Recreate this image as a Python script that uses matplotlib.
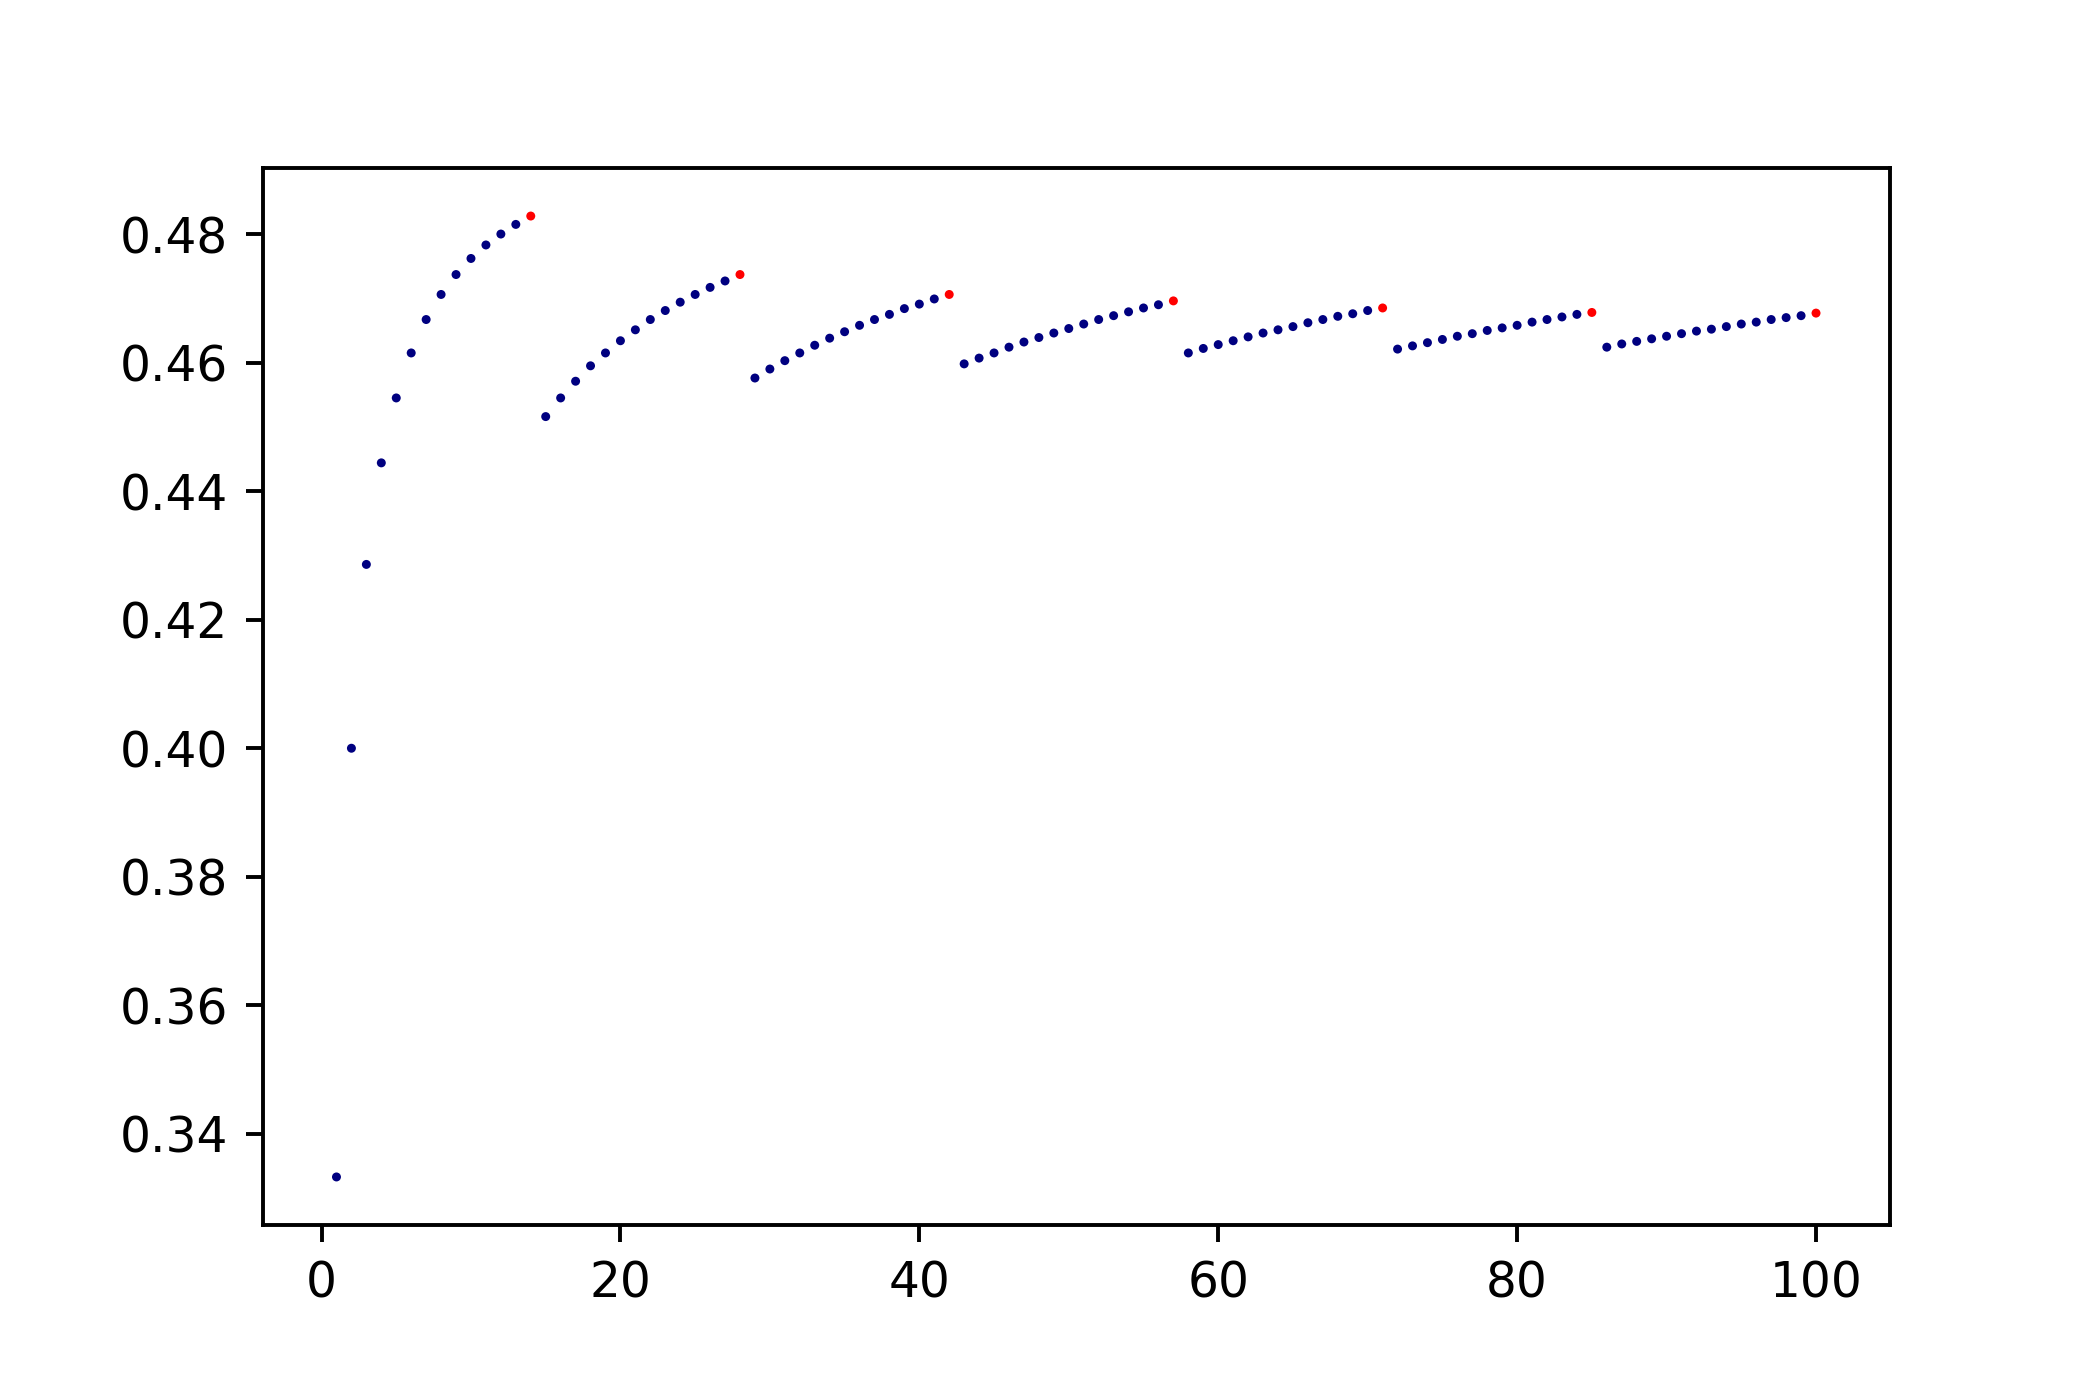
import numpy as np
import matplotlib
matplotlib.use('Agg')
import matplotlib.pyplot as plt

# x positions 1..100
x_vals = list(range(1, 101))

# values (7 runs, each ending on a red point)
y_vals = [
    0.3333, 0.4000, 0.4286, 0.4444, 0.4545, 0.4615, 0.4667, 0.4706, 0.4737, 0.4762,
    0.4783, 0.4800, 0.4815, 0.4828,
    0.4516, 0.4545, 0.4571, 0.4595, 0.4615, 0.4634, 0.4651, 0.4667, 0.4681, 0.4694,
    0.4706, 0.4717, 0.4727, 0.4737,
    0.4576, 0.4590, 0.4603, 0.4615, 0.4627, 0.4638, 0.4648, 0.4658, 0.4667, 0.4675,
    0.4684, 0.4691, 0.4699, 0.4706,
    0.4598, 0.4607, 0.4615, 0.4624, 0.4632, 0.4639, 0.4646, 0.4653, 0.4660, 0.4667,
    0.4673, 0.4679, 0.4685, 0.4690, 0.4696,
    0.4615, 0.4622, 0.4628, 0.4634, 0.4640, 0.4646, 0.4651, 0.4656, 0.4662, 0.4667,
    0.4672, 0.4676, 0.4681, 0.4685,
    0.4621, 0.4626, 0.4631, 0.4636, 0.4641, 0.4645, 0.4650, 0.4654, 0.4658, 0.4663,
    0.4667, 0.4671, 0.4675, 0.4678,
    0.4624, 0.4629, 0.4633, 0.4637, 0.4641, 0.4645, 0.4649, 0.4652, 0.4656, 0.4660,
    0.4663, 0.4667, 0.4670, 0.4673, 0.4677,
]

# x positions of the red (end-of-run) points
red_x = [14, 28, 42, 57, 71, 85, 100]

colors = ['red' if xv in red_x else 'navy' for xv in x_vals]

fig = plt.figure(figsize=(6, 4), dpi=350)
ax = fig.add_axes([0.125, 0.125, 0.775, 0.755])
ax.scatter(x_vals, y_vals, c=colors, s=3.4, linewidths=0)

fig.savefig('out.png', dpi=350)
